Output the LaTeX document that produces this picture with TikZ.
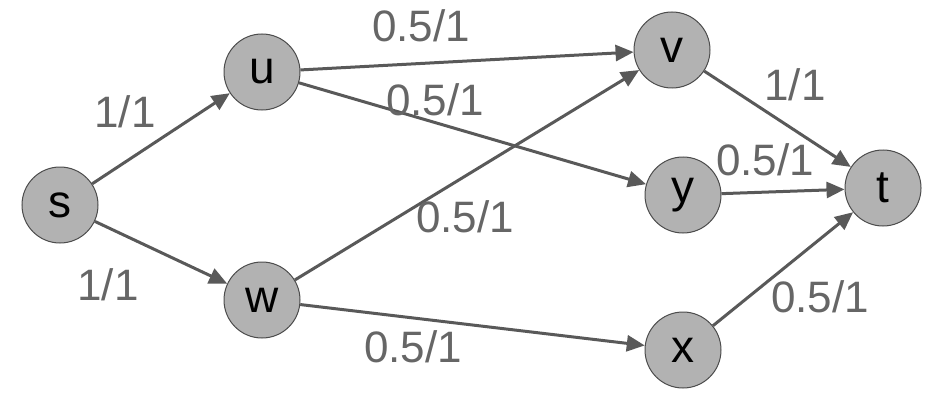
\documentclass[tikz,border=0pt]{standalone}
\usepackage{fontspec}
\setmainfont{Liberation Sans}
\usetikzlibrary{arrows.meta}
\begin{document}
\begin{tikzpicture}[x=1pt,y=-1pt,
  vert/.style={circle,draw=black!70,line width=1pt,fill=black!30,minimum size=76pt,inner sep=0pt,font=\fontsize{46}{46}\selectfont},
  edge/.style={draw=black!65,line width=3pt,-{Triangle[length=18pt,width=16pt]}},
  lbl/.style={text=black!60,font=\fontsize{44}{44}\selectfont,inner sep=0pt}]
\useasboundingbox (0,0) rectangle (936,401);
\node[vert] (s) at (60,205) {s};
\node[vert] (u) at (262,72) {u};
\node[vert] (w) at (262,300) {w};
\node[vert] (v) at (672,50) {v};
\node[vert] (y) at (683,195) {y};
\node[vert] (x) at (683,350) {x};
\node[vert] (t) at (883,188) {t};
\draw[edge] (s) -- (u);
\draw[edge] (s) -- (w);
\draw[edge] (u) -- (v);
\draw[edge] (u) -- (y);
\draw[edge] (w) -- (v);
\draw[edge] (w) -- (x);
\draw[edge] (v) -- (t);
\draw[edge] (y) -- (t);
\draw[edge] (x) -- (t);
\node[lbl] (l1) at (125,112) {1/1};
\node[lbl] (l2) at (108,285) {1/1};
\node[lbl] (l3) at (421,26) {0.5/1};
\node[lbl] (l4) at (435,100) {0.5/1};
\node[lbl] (l5) at (465,217) {0.5/1};
\node[lbl] (l6) at (413,347) {0.5/1};
\node[lbl] (l7) at (795,85) {1/1};
\node[lbl] (l8) at (765,160) {0.5/1};
\node[lbl] (l9) at (820,297) {0.5/1};
\end{tikzpicture}
\end{document}
